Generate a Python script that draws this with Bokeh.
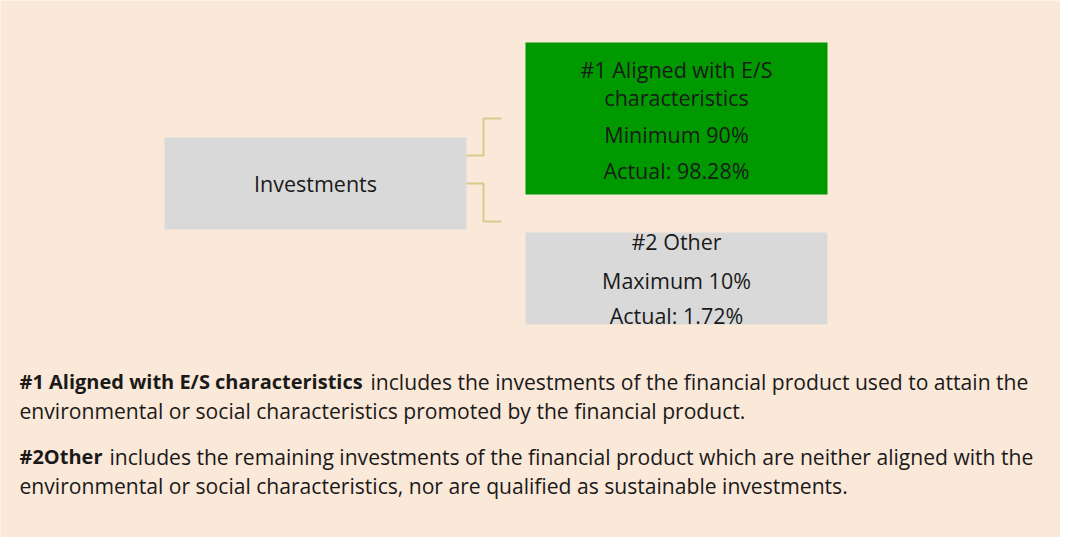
from bokeh.plotting import figure
from bokeh.models import Range1d
from bokeh.core.properties import value
from bokeh.embed import file_html
from bokeh.resources import INLINE

# ---- data ----
root_label = "Investments"
branch_titles = [["#1 Aligned with E/S", "characteristics"], ["#2 Other"]]
limit_kinds = ["Minimum", "Maximum"]
limit_values = [90, 10]
actual_values = [98.28, 1.72]
desc_bold = ["#1 Aligned with E/S characteristics", "#2Other"]
desc_rest_first = ["includes the investments of the financial product used to attain the",
                   "includes the remaining investments of the financial product which are neither aligned with the"]
desc_second = ["environmental or social characteristics promoted by the financial product.",
               "environmental or social characteristics, nor are qualified as sustainable investments."]

# ---- style ----
BG = "#FAE8D8"
GREY = "#D9D9D9"
GREEN = "#009A00"
LINK = "#D6CB8C"
INK = "#1A1A1A"
FONT = value("Open Sans")
W, H = 1060, 537

p = figure(width=W, height=H, output_backend="svg", toolbar_location=None,
           x_range=Range1d(0, W), y_range=Range1d(H, 0), min_border=0,
           background_fill_color=BG, border_fill_color=BG, outline_line_color=None)
p.axis.visible = False
p.grid.visible = False

# boxes
p.quad(left=[164], right=[466], top=[137], bottom=[229], fill_color=GREY, line_color=None)
p.quad(left=[525], right=[827], top=[42], bottom=[194], fill_color=GREEN, line_color=None)
p.quad(left=[525], right=[827], top=[232], bottom=[324], fill_color=GREY, line_color=None)

# connectors
p.line([466, 483, 483, 501], [155, 155, 118, 118], line_color=LINK, line_width=2)
p.line([466, 483, 483, 501], [183, 183, 221, 221], line_color=LINK, line_width=2)

def txt(x, y, t, align="center", style="normal", size="21.5px"):
    p.text(x=[x], y=[y], text=[t], text_align=align, text_baseline="middle",
           text_font=FONT, text_font_size=size, text_color=INK, text_font_style=style)

txt(315, 183, root_label)

# branch 1
b1 = branch_titles[0]
txt(676, 69, b1[0])
txt(676, 97, b1[1])
txt(676, 134, f"{limit_kinds[0]} {limit_values[0]}%")
txt(676, 170, f"Actual: {actual_values[0]:.2f}%")

# branch 2
txt(676, 241, branch_titles[1][0])
txt(676, 280, f"{limit_kinds[1]} {limit_values[1]}%")
txt(676, 315, f"Actual: {actual_values[1]:.2f}%")

# description
BODY = "21.1px"
BOLD = "20px"
txt(19, 381, desc_bold[0], align="left", style="bold", size=BOLD)
txt(370, 381, desc_rest_first[0], align="left", size=BODY)
txt(19, 410, desc_second[0], align="left", size=BODY)
txt(19, 456, desc_bold[1], align="left", style="bold", size=BOLD)
txt(109, 456, desc_rest_first[1], align="left", size=BODY)
txt(19, 485, desc_second[1], align="left", size=BODY)

open("out.html", "w").write(file_html(p, INLINE))
